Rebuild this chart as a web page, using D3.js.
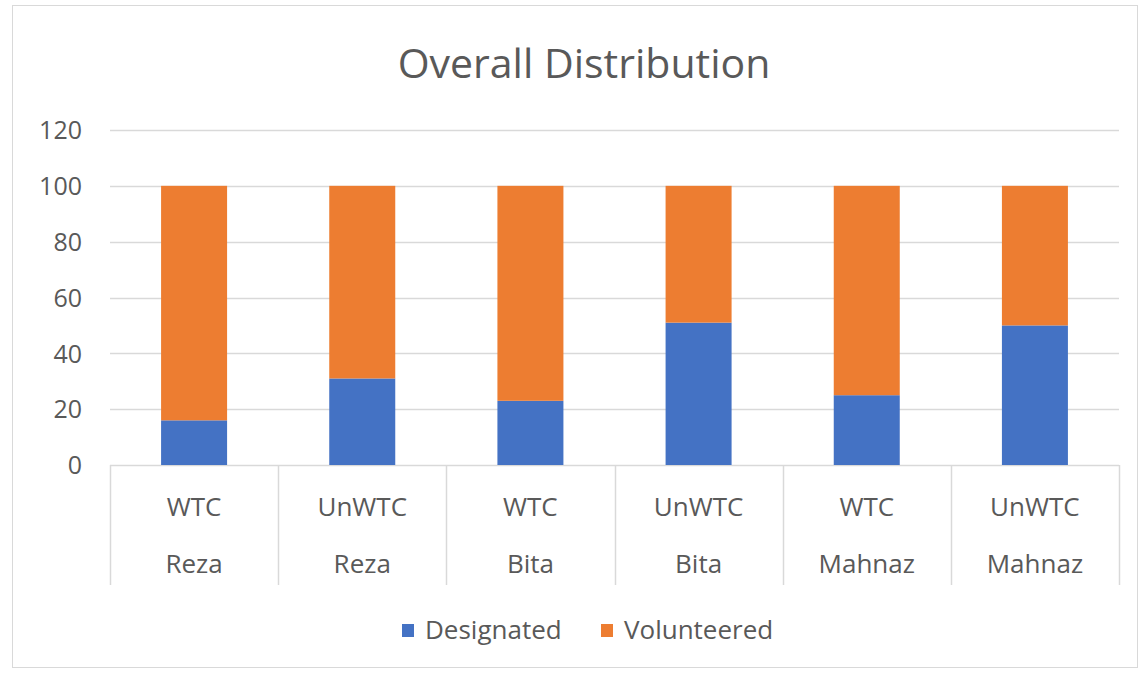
<!DOCTYPE html>
<html>
<meta charset="utf-8" />
<title>Overall Distribution</title>
<head>
    <script src="https://d3js.org/d3.v7.min.js"></script>
    <style>
        body { margin: 0; background: #fff; }
        text { font-family: "Open Sans", "Noto Sans", sans-serif; fill: #595959; }
    </style>
</head>
<body>
    <div id="chart"></div>
    <script type="text/javascript">
        // values (percent)
        var groups = ["WTC|Reza", "UnWTC|Reza", "WTC|Bita", "UnWTC|Bita", "WTC|Mahnaz", "UnWTC|Mahnaz"];
        var kinds = ["WTC", "UnWTC", "WTC", "UnWTC", "WTC", "UnWTC"];
        var names = ["Reza", "Reza", "Bita", "Bita", "Mahnaz", "Mahnaz"];
        var designated = [16, 31, 23, 51, 25, 50];
        var volunteered = [84, 69, 77, 49, 75, 50];
        var yTicks = [0, 20, 40, 60, 80, 100, 120];
        var seriesNames = ["Designated", "Volunteered"];
        var seriesColors = ["#4472C4", "#ED7D31"];

        const W = 1142, H = 675;
        const plotLeft = 110, plotRight = 1119, plotTop = 130, plotBottom = 465;

        var svg = d3.select("#chart").append("svg")
            .attr("width", W)
            .attr("height", H);

        // chart frame
        svg.append("rect")
            .attr("x", 12.5).attr("y", 5.5)
            .attr("width", 1125).attr("height", 662)
            .attr("fill", "#fff")
            .attr("stroke", "#d9d9d9");

        var x = d3.scaleBand().domain(groups).range([plotLeft, plotRight]).paddingInner(0).paddingOuter(0);
        var y = d3.scaleLinear().domain([0, 120]).range([plotBottom, plotTop]);

        // gridlines
        svg.append("g").selectAll("line")
            .data(yTicks)
            .enter()
            .append("line")
            .attr("x1", plotLeft).attr("x2", plotRight)
            .attr("y1", d => Math.round(y(d)) + 0.5)
            .attr("y2", d => Math.round(y(d)) + 0.5)
            .attr("stroke", "#d9d9d9")
            .attr("stroke-width", 1.5);

        // y tick labels
        var yAxis = svg.append("g")
            .attr("transform", "translate(" + (plotLeft - 28) + ",0)")
            .call(d3.axisLeft(y).tickValues(yTicks).tickSize(0).tickPadding(0));
        yAxis.select(".domain").remove();
        yAxis.selectAll("text")
            .style("font-size", "25px")
            .style("font-family", "'Open Sans', 'Noto Sans', sans-serif")
            .attr("fill", "#595959")
            .attr("dy", "0.35em");

        // stacked bars
        var table = groups.map(function(g, i) {
            return { group: g, Designated: designated[i], Volunteered: volunteered[i] };
        });
        var stack = d3.stack().keys(seriesNames)(table);
        var bw = 66;

        svg.append("g").selectAll("g")
            .data(stack)
            .enter()
            .append("g")
            .attr("fill", (d, i) => seriesColors[i])
            .selectAll("rect")
            .data(d => d)
            .enter()
            .append("rect")
            .attr("x", d => x(d.data.group) + (x.bandwidth() - bw) / 2)
            .attr("y", d => y(d[1]))
            .attr("width", bw)
            .attr("height", d => y(d[0]) - y(d[1]));

        // category axis: boundaries and two label rows
        var bounds = groups.map(g => x(g)).concat([plotRight]);
        svg.append("g").selectAll("line")
            .data(bounds)
            .enter()
            .append("line")
            .attr("x1", d => Math.round(d) + 0.5).attr("x2", d => Math.round(d) + 0.5)
            .attr("y1", plotBottom).attr("y2", 585)
            .attr("stroke", "#d9d9d9")
            .attr("stroke-width", 1.5);

        svg.append("g").selectAll("text")
            .data(groups)
            .enter()
            .append("text")
            .attr("x", d => x(d) + x.bandwidth() / 2)
            .attr("y", 516)
            .attr("text-anchor", "middle")
            .style("font-size", "26px")
            .text((d, i) => kinds[i]);

        svg.append("g").selectAll("text")
            .data(groups)
            .enter()
            .append("text")
            .attr("x", d => x(d) + x.bandwidth() / 2)
            .attr("y", 573)
            .attr("text-anchor", "middle")
            .style("font-size", "26px")
            .text((d, i) => names[i]);

        // title
        svg.append("text")
            .attr("x", 584).attr("y", 78)
            .attr("text-anchor", "middle")
            .style("font-size", "41px")
            .text("Overall Distribution");

        // legend
        var legendX = [402, 601];
        var legend = svg.append("g").selectAll("g")
            .data(seriesNames)
            .enter()
            .append("g")
            .attr("transform", (d, i) => "translate(" + legendX[i] + ",624)");
        legend.append("rect")
            .attr("width", 12).attr("height", 13)
            .attr("fill", (d, i) => seriesColors[i]);
        legend.append("text")
            .attr("x", 23).attr("y", 15)
            .style("font-size", "26px")
            .text(d => d);
    </script>
</body>
</html>
